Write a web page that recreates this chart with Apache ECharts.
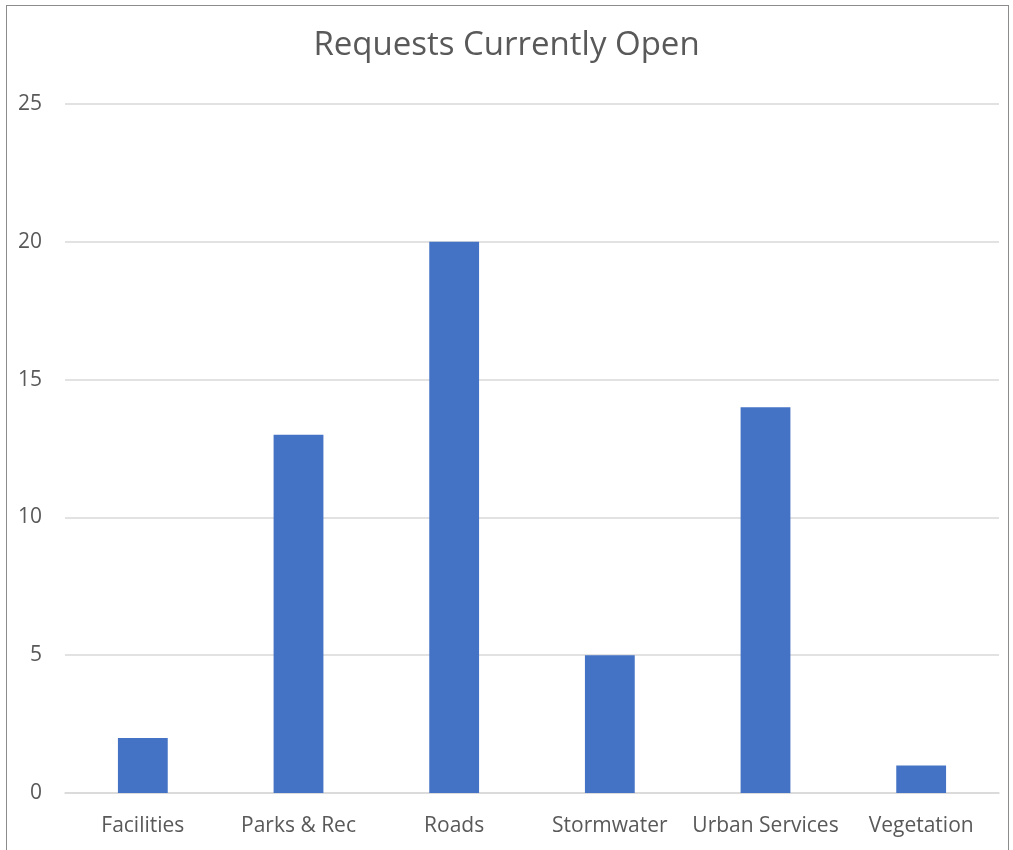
<!DOCTYPE html>
<html>
<head>
<meta charset="utf-8">
<script src="https://cdn.jsdelivr.net/npm/echarts@6/dist/echarts.min.js"></script>
<style>
  html, body { margin: 0; padding: 0; background: #fff; }
  #frame { position: absolute; left: 6px; top: 5px; width: 1001px; height: 900px; border: 1px solid #8c8c8c; }
  #chart { position: absolute; left: 0; top: 0; width: 1013px; height: 850px; }
</style>
</head>
<body>
<div id="frame"></div>
<div id="chart"></div>
<script>
const categories = ['Facilities', 'Parks & Rec', 'Roads', 'Stormwater', 'Urban Services', 'Vegetation'];
const openRequests = [2, 13, 20, 5, 14, 1];

const chart = echarts.init(document.getElementById('chart'), null, { renderer: 'canvas' });

chart.setOption({
  animation: false,
  title: {
    text: 'Requests Currently Open',
    left: 'center',
    top: 24,
    textStyle: {
      fontFamily: 'Open Sans',
      fontSize: 33,
      fontWeight: 'normal',
      color: '#595959'
    }
  },
  grid: { left: 65, right: 14, top: 104, bottom: 57, containLabel: false },
  xAxis: {
    type: 'category',
    data: categories,
    axisLine: { show: true, lineStyle: { color: '#d9d9d9', width: 1.5 } },
    axisTick: { show: false },
    axisLabel: {
      margin: 23,
      fontFamily: 'Open Sans',
      fontSize: 21,
      color: '#595959',
      interval: 0
    }
  },
  yAxis: {
    type: 'value',
    min: 0,
    max: 25,
    interval: 5,
    axisLine: { show: false },
    axisTick: { show: false },
    splitLine: { lineStyle: { color: '#d9d9d9', width: 1.5 } },
    axisLabel: {
      margin: 23,
      fontFamily: 'Open Sans',
      fontSize: 21,
      color: '#595959'
    }
  },
  series: [{
    name: 'Requests Currently Open',
    type: 'bar',
    data: openRequests,
    barWidth: '32%',
    itemStyle: { color: '#4472c4' }
  }]
});
</script>
</body>
</html>
